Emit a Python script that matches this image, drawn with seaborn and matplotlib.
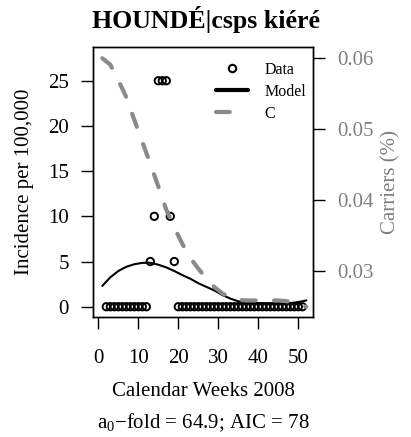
import matplotlib
matplotlib.use("Agg")
import matplotlib.pyplot as plt
from matplotlib.lines import Line2D
import numpy as np
import pandas as pd
import seaborn as sns

# ---------------- data ----------------
data_weeks = list(range(2, 52))
data_incidence = ([0] * 11            # weeks 2-12
                  + [5, 10, 25, 25, 25, 10, 5]   # weeks 13-19
                  + [0] * 32)          # weeks 20-51

model_weeks = [1, 3, 5, 7, 9, 11, 13, 15, 17, 19, 21, 23, 25, 27, 29, 31, 33,
               35, 37, 39, 41, 43, 45, 47, 49, 51, 52]
model_incidence = [2.3, 3.25, 3.95, 4.42, 4.7, 4.85, 4.87, 4.65, 4.35, 3.95,
                   3.5, 3.1, 2.6, 2.2, 1.8, 1.3, 0.9, 0.6, 0.5, 0.43, 0.38,
                   0.35, 0.35, 0.38, 0.45, 0.6, 0.7]

carrier_weeks = model_weeks
carriers = [0.0600, 0.0591, 0.0569, 0.0545, 0.0513, 0.0482, 0.0451, 0.0419,
            0.0386, 0.0361, 0.0338, 0.0318, 0.0303, 0.0289, 0.0277, 0.0268,
            0.0262, 0.0259, 0.0258, 0.0258, 0.0258, 0.0258, 0.0258, 0.0257,
            0.0255, 0.0251, 0.0249]

x_ticks = [0, 10, 20, 30, 40, 50]
left_ticks = [0, 5, 10, 15, 20, 25]
right_ticks = [0.03, 0.04, 0.05, 0.06]
right_tick_labels = ["0.03", "0.04", "0.05", "0.06"]

title = "HOUNDÉ|csps kiéré"
xlabel = "Calendar Weeks 2008"
ylabel_left = "Incidence per 100,000"
ylabel_right = "Carriers (%)"
subtitle = r"a$_0$−fold = 64.9; AIC = 78"
legend_labels = ["Data", "Model", "C"]

# ---------------- style ----------------
sns.set_style("ticks")
plt.rcParams["font.family"] = ["Liberation Serif", "DejaVu Serif"]
plt.rcParams["mathtext.fontset"] = "custom"
plt.rcParams["mathtext.rm"] = "Liberation Serif"
plt.rcParams["mathtext.it"] = "Liberation Serif:italic"
plt.rcParams["mathtext.bf"] = "Liberation Serif:bold"
for k in ["text.color", "axes.labelcolor", "xtick.color", "ytick.color",
          "axes.edgecolor"]:
    plt.rcParams[k] = "black"

GRAY_LINE = "#8a8a8a"
GRAY_TEXT = "#7f7f7f"
FS = 15

fig = plt.figure(figsize=(4.11, 4.37), dpi=100)
ax = fig.add_axes([93.3 / 411, 1 - 317.3 / 437, 220 / 411, 270 / 437])

df_data = pd.DataFrame({"week": data_weeks, "inc": data_incidence})
df_model = pd.DataFrame({"week": model_weeks, "inc": model_incidence})
df_c = pd.DataFrame({"week": carrier_weeks, "c": carriers})

sns.scatterplot(data=df_data, x="week", y="inc", ax=ax, s=28,
                facecolors="none", edgecolor="black", linewidth=1.4,
                zorder=3, legend=False)
sns.lineplot(data=df_model, x="week", y="inc", ax=ax, color="black",
             linewidth=1.5, legend=False, zorder=2)

ax.set_xlim(-1.25, 53.75)
ax.set_ylim(-1.17, 28.7)
ax.set_xticks(x_ticks)
ax.set_yticks(left_ticks)
ax.tick_params(axis="both", direction="out", length=8.6, width=1.0,
               labelsize=FS, colors="black")
ax.tick_params(axis="x", pad=14)
ax.tick_params(axis="y", pad=9)
for s in ax.spines.values():
    s.set_linewidth(1.0)
    s.set_color("black")

ax.set_xlabel(xlabel, fontsize=FS, color="black")
ax.xaxis.set_label_coords(0.5, -0.24)
ax.set_ylabel(ylabel_left, fontsize=FS, color="black")
ax.yaxis.set_label_coords(-0.268, 0.5)
ax.set_title(title, fontsize=18.6, fontweight="bold", x=0.514, pad=13.7,
             color="black")
ax.text(0.5, -0.348, subtitle, transform=ax.transAxes, ha="center",
        va="top", fontsize=FS, color="black")

ax2 = ax.twinx()
sns.lineplot(data=df_c, x="week", y="c", ax=ax2, color=GRAY_LINE,
             linewidth=3, linestyle=(0, (3.3, 4.4)), dash_capstyle="round",
             legend=False, zorder=1)
ax2.set_ylim(0.02342, 0.06155)
ax2.set_yticks(right_ticks)
ax2.set_yticklabels(right_tick_labels)
ax2.tick_params(axis="y", direction="out", length=8.6, width=1.0,
                labelsize=FS, pad=9, labelcolor=GRAY_TEXT, color="black")
ax2.set_ylabel(ylabel_right, fontsize=FS, color=GRAY_TEXT)
ax2.yaxis.set_label_coords(1.31, 0.5)
for s in ax2.spines.values():
    s.set_linewidth(1.0)
    s.set_color("black")

handles = [
    Line2D([], [], marker="o", linestyle="none", markerfacecolor="none",
           markeredgecolor="black", markersize=5.3, markeredgewidth=1.5),
    Line2D([], [], color="black", linewidth=3),
    Line2D([], [], color=GRAY_LINE, linewidth=3, linestyle=(0, (3.3, 4.4)),
           dash_capstyle="round"),
]
leg = ax2.legend(handles, legend_labels, loc="upper right",
                 bbox_to_anchor=(0.967, 0.947), frameon=False, fontsize=11.5,
                 handlelength=2.0, handletextpad=1.0, labelspacing=0.38,
                 borderpad=0, borderaxespad=0)
for t in leg.get_texts():
    t.set_color("black")

fig.savefig("out.png", dpi=100)
